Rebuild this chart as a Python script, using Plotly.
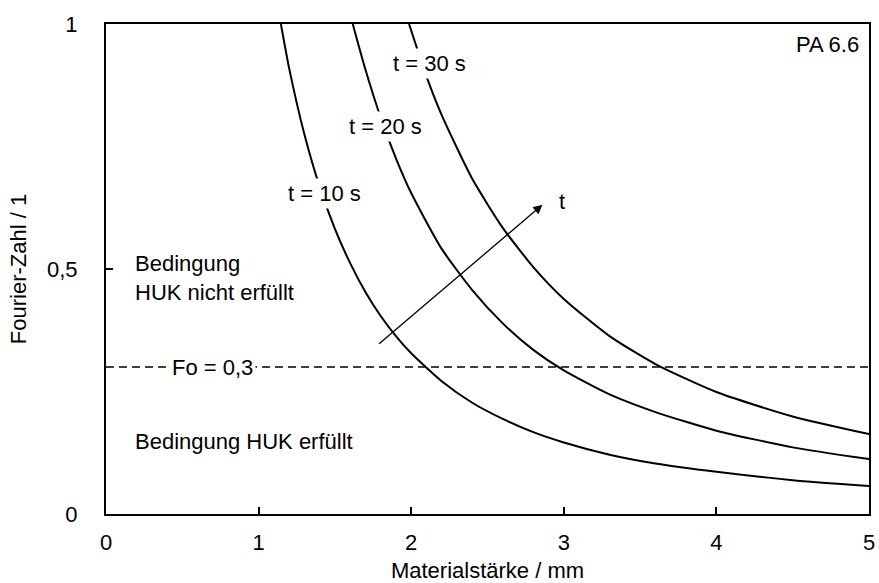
import plotly.graph_objects as go

# Materialstärke (mm) and Fourier-Zahl readings for each contact time
x_t10 = [1.146, 1.2, 1.3, 1.4, 1.5, 1.6, 1.7, 1.8, 1.9, 2.0, 2.2, 2.4, 2.6, 2.8, 3.0, 3.3, 3.6, 4.0, 4.5, 5.0]
y_t10 = [1.0, 0.910, 0.775, 0.668, 0.582, 0.512, 0.453, 0.404, 0.363, 0.328, 0.271, 0.227, 0.194, 0.167, 0.146, 0.121, 0.103, 0.086, 0.069, 0.057]

x_t20 = [1.617, 1.7, 1.8, 1.9, 2.0, 2.2, 2.4, 2.6, 2.8, 3.0, 3.3, 3.6, 4.0, 4.5, 5.0]
y_t20 = [1.0, 0.907, 0.809, 0.726, 0.655, 0.541, 0.457, 0.389, 0.335, 0.293, 0.244, 0.208, 0.170, 0.136, 0.112]

x_t30 = [1.986, 2.1, 2.2, 2.4, 2.6, 2.8, 3.0, 3.3, 3.6, 4.0, 4.5, 5.0]
y_t30 = [1.0, 0.893, 0.814, 0.684, 0.584, 0.504, 0.439, 0.363, 0.306, 0.249, 0.199, 0.163]

fo_limit = 0.3
x_ticks = [0, 1, 2, 3, 4, 5]
x_ticktext = ["0", "1", "2", "3", "4", "5"]
y_ticks = [0, 0.5, 1]
y_ticktext = ["0", "0,5", "1"]

FONT = "Liberation Sans, Arial, sans-serif"
FS = 22

fig = go.Figure()
for xs, ys in [(x_t10, y_t10), (x_t20, y_t20), (x_t30, y_t30)]:
    fig.add_trace(go.Scatter(x=xs, y=ys, mode="lines", line=dict(color="black", width=2, shape="spline", smoothing=0.6),
                             showlegend=False, hoverinfo="skip"))

fig.add_trace(go.Scatter(x=[0, 5], y=[fo_limit, fo_limit], mode="lines",
                         line=dict(color="black", width=1.5, dash="8px,5px"), showlegend=False, hoverinfo="skip"))

ann = []
def txt(x, y, s, xanchor="center", bg=None, yanchor="middle", align="left"):
    d = dict(x=x, y=y, xref="x", yref="y", text=s, showarrow=False, xanchor=xanchor, yanchor=yanchor,
             align=align, font=dict(family=FONT, size=FS, color="black"))
    if bg:
        d.update(bgcolor=bg, borderpad=2)
    ann.append(d)

txt(2.12, 0.920, "t = 30 s", bg="white")
txt(1.83, 0.790, "t = 20 s", bg="white")
txt(1.43, 0.655, "t = 10 s", bg="white")
txt(2.99, 0.637, "t")
txt(4.948, 0.958, "PA 6.6", xanchor="right")
txt(0.177, 0.481, "Bedingung<br>HUK nicht erfüllt", xanchor="left")
txt(0.70, fo_limit, "Fo = 0,3", bg="white")
txt(0.177, 0.147, "Bedingung HUK erfüllt", xanchor="left")

ann.append(dict(x=2.86, y=0.631, ax=1.78, ay=0.345, xref="x", yref="y", axref="x", ayref="y",
                text="", showarrow=True, arrowhead=2, arrowsize=1.4, arrowwidth=1.3, arrowcolor="black"))

fig.update_layout(
    width=879, height=583,
    margin=dict(l=106, r=10, t=24, b=69, autoexpand=False),
    paper_bgcolor="white", plot_bgcolor="white",
    font=dict(family=FONT, size=FS, color="black"),
    annotations=ann,
    xaxis=dict(range=[0, 5], tickvals=x_ticks, ticktext=x_ticktext, ticks="inside", ticklen=7, tickwidth=1.5,
               tickcolor="black", showline=True, linecolor="black", linewidth=2, mirror=True,
               showgrid=False, zeroline=False, ticklabelstandoff=8, automargin=False,
               title=dict(text="Materialstärke / mm", font=dict(size=FS), standoff=10)),
    yaxis=dict(range=[0, 1], tickvals=y_ticks, ticktext=y_ticktext, ticks="inside", ticklen=7, tickwidth=1.5,
               tickcolor="black", showline=True, linecolor="black", linewidth=2, mirror=True,
               showgrid=False, zeroline=False, ticklabelstandoff=22, automargin=False,
               title=dict(text="Fourier-Zahl / 1", font=dict(size=FS), standoff=14)),
)

fig.write_html("out.html")
